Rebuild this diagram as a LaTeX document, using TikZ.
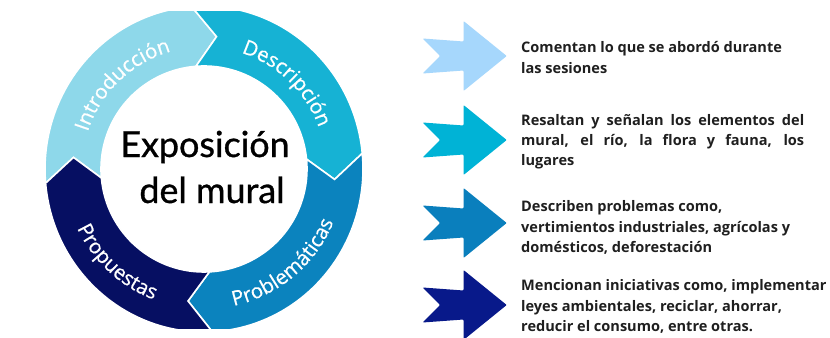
\documentclass[tikz,border=0pt]{standalone}
\usepackage{fontspec}
\setmainfont{Open Sans}
\newfontfamily\ringfont[FakeBold=0.6]{Open Sans}
\newfontfamily\centerfont[FakeBold=0.9]{Lato}
\usetikzlibrary{decorations.text}
\definecolor{cIntro}{HTML}{8ED8EA}
\definecolor{cDesc}{HTML}{16B2D4}
\definecolor{cProb}{HTML}{0B83BE}
\definecolor{cProp}{HTML}{060F62}
\definecolor{aOne}{HTML}{A6D7FC}
\definecolor{aTwo}{HTML}{00B3D6}
\definecolor{aThree}{HTML}{0A7FBD}
\definecolor{aFour}{HTML}{08198A}
\definecolor{txtgray}{HTML}{1F1F1F}
\newcommand\rsarrow[2]{%
  \begin{scope}[shift={(0,#1)}]
    \fill[#2, rounded corners=0.8bp] (422.7,17.5) -- (463.5,14.5) -- (463.5,35) -- (506.7,0)
      -- (463.5,-35) -- (463.5,-14.5) -- (422.7,-17.5) -- (440,0) -- cycle;
  \end{scope}}
\begin{document}
\begin{tikzpicture}[x=1bp,y=1bp,
  seg/.style={draw=white, line width=1.6bp, line join=miter},
  desc/.style={align=left, inner sep=0pt, text=txtgray,
    font=\fontsize{14.6}{20.5}\selectfont\bfseries},
  ctext/.style={inner sep=0pt, font=\centerfont\fontsize{36}{36}\selectfont, text=black}]
\useasboundingbox (0,0) rectangle (830,337);
\fill[white] (0,0) rectangle (830,337);
% ---- ring ----
\begin{scope}
  \clip (0,9) rectangle (830,325);
  \begin{scope}[shift={(204,168)}]
    % Introduccion
    \path[seg, fill=cIntro] (185:159 and 163) arc[start angle=185, end angle=94.5, x radius=159, y radius=163]
      -- (84.5:131 and 133) -- (94.5:103) arc[start angle=94.5, end angle=185, radius=103]
      -- (175:131 and 133) -- cycle;
    % Descripcion
    \path[seg, fill=cDesc] (94.5:159 and 163) arc[start angle=94.5, end angle=5.5, x radius=159, y radius=163]
      -- (-4.5:131 and 133) -- (5.5:103) arc[start angle=5.5, end angle=94.5, radius=103]
      -- (84.5:131 and 133) -- cycle;
    % Problematicas
    \path[seg, fill=cProb] (5.5:159 and 163) arc[start angle=5.5, end angle=-87, x radius=159, y radius=163]
      -- (-97:131 and 133) -- (-87:103) arc[start angle=-87, end angle=5.5, radius=103]
      -- (-4.5:131 and 133) -- cycle;
    % Propuestas
    \path[seg, fill=cProp] (-87:159 and 163) arc[start angle=-87, end angle=-175, x radius=159, y radius=163]
      -- (-185:131 and 133) -- (-175:103) arc[start angle=-175, end angle=-87, radius=103]
      -- (-97:131 and 133) -- cycle;
    % ring labels
    \path[decorate, decoration={text along path, text align=center, text color=white,
      text={|\ringfont\fontsize{20.5}{20.5}\selectfont|Introducción}}]
      (172:122) arc[start angle=172, end angle=96, radius=122];
    \path[decorate, decoration={text along path, text align=center, text color=white,
      text={|\ringfont\fontsize{20.5}{20.5}\selectfont|Descripción}}]
      (84:122) arc[start angle=84, end angle=8, radius=122];
    \path[decorate, decoration={text along path, text align=center, text color=white,
      text={|\ringfont\fontsize{20.5}{20.5}\selectfont|Problemáticas}}]
      (-90:140) arc[start angle=-90, end angle=-10, radius=140];
    \path[decorate, decoration={text along path, text align=center, text color=white,
      text={|\ringfont\fontsize{20.5}{20.5}\selectfont|Propuestas}}]
      (189:140) arc[start angle=189, end angle=265, radius=140];
  \end{scope}
\end{scope}
% ---- centre title ----
\node[ctext, anchor=base] (t1) at (205,180) {Exposición};
\node[ctext, anchor=base] (t2) at (212,134) {del mural};
% ---- arrows ----
\rsarrow{281}{aOne}
\rsarrow{197}{aTwo}
\rsarrow{114}{aThree}
\rsarrow{32}{aFour}
% ---- descriptions ----
\node[desc, anchor=west] (d1) at (521,279.5) {Comentan lo que se abordó durante\\las sesiones};
\node[desc, anchor=west] (d2) at (521,195.3) {\makebox[283bp][s]{Resaltan y señalan los elementos del}\\\makebox[283bp][s]{mural, el río, la flora y fauna, los}\\lugares};
\node[desc, anchor=west] (d3) at (521,109.5) {Describen problemas como,\\vertimientos industriales, agrícolas y\\domésticos, deforestación};
\node[desc, anchor=west] (d4) at (521,30.3) {Mencionan iniciativas como, implementar\\leyes ambientales, reciclar, ahorrar,\\reducir el consumo, entre otras.};
\end{tikzpicture}
\end{document}
